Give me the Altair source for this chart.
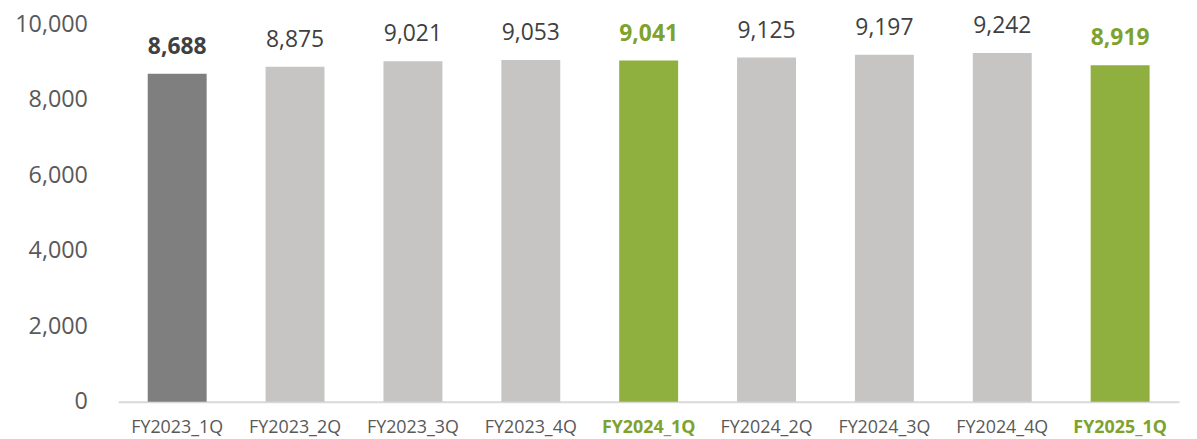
import altair as alt
import pandas as pd

quarters = ["FY2023_1Q", "FY2023_2Q", "FY2023_3Q", "FY2023_4Q", "FY2024_1Q",
            "FY2024_2Q", "FY2024_3Q", "FY2024_4Q", "FY2025_1Q"]
values = [8688, 8875, 9021, 9053, 9041, 9125, 9197, 9242, 8919]
kinds = ["base", "other", "other", "other", "green", "other", "other", "other", "green"]

bar_colors = {"base": "#7f7f7f", "other": "#c6c5c4", "green": "#8faf3e"}
label_colors = {"base": "#404040", "other": "#404040", "green": "#7ea22e"}

df = pd.DataFrame({"q": quarters, "v": values, "k": kinds})
df["bar_color"] = df["k"].map(bar_colors)
df["label_color"] = df["k"].map(label_colors)
df["label"] = df["v"].map(lambda x: f"{x:,}")

FONT = "Open Sans"

x = alt.X("q:N", sort=quarters, title=None,
          scale=alt.Scale(paddingInner=0.5, paddingOuter=0.25),
          axis=alt.Axis(labelAngle=0, ticks=False, domainColor="#d9d9d9", domainWidth=2,
                        labelFont=FONT, labelFontSize=18, labelPadding=17,
                        labelColor=alt.expr("(datum.value == 'FY2024_1Q' || datum.value == 'FY2025_1Q') ? '#7ea22e' : '#595959'"),
                        labelFontWeight=alt.expr("(datum.value == 'FY2024_1Q' || datum.value == 'FY2025_1Q') ? 'bold' : 'normal'")))
y = alt.Y("v:Q", title=None, scale=alt.Scale(domain=[0, 10000], nice=False),
          axis=alt.Axis(values=[0, 2000, 4000, 6000, 8000, 10000], format=",d", grid=False,
                        domain=False, ticks=False, labelFont=FONT, labelFontSize=23.5,
                        labelColor="#595959", labelPadding=31))

base = alt.Chart(df)
bars = base.mark_bar().encode(x=x, y=y, color=alt.Color("bar_color:N", scale=None))
labels_normal = base.transform_filter("datum.k == 'other'").mark_text(
    font=FONT, fontSize=23, dy=-20, baseline="alphabetic", color="#404040"
).encode(x=alt.X("q:N", sort=quarters), y="v:Q", text="label:N")
labels_bold = base.transform_filter("datum.k != 'other'").mark_text(
    font=FONT, fontSize=23, fontWeight="bold", dy=-20, baseline="alphabetic"
).encode(x=alt.X("q:N", sort=quarters), y="v:Q", text="label:N",
         color=alt.Color("label_color:N", scale=None))

chart = alt.layer(bars, labels_normal, labels_bold).properties(
    width=1068, height=380,
    autosize=alt.AutoSizeParams(type="none"),
    padding={"left": 111, "top": 15, "right": 10, "bottom": 36},
).configure(background="white").configure_view(stroke=None)

chart.save("out.html", embed_options={"renderer": "svg", "actions": False})
